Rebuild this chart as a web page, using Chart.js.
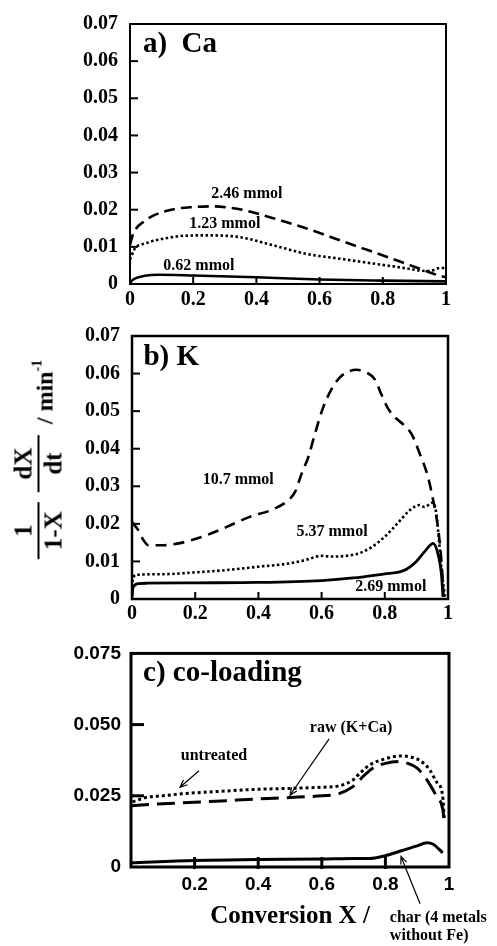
<!DOCTYPE html>
<html>
<head>
<meta charset="utf-8">
<script src="https://cdn.jsdelivr.net/npm/chart.js@4.4.1/dist/chart.umd.min.js"></script>
<style>
  body { margin:0; background:#fff; width:497px; height:946px; position:relative; overflow:hidden; }
  canvas { position:absolute; left:0; }
  #ylab { position:absolute; left:38px; top:462px; transform:translate(-50%,-50%) rotate(-90deg);
          display:flex; align-items:center; white-space:nowrap; color:#000;
          font:bold 25px "Liberation Serif", serif; }
  .frac { display:inline-flex; flex-direction:column; align-items:center; line-height:1; width:57px; margin:0 5px; }
  .frac .num { padding-bottom:2px; }
  .frac .den { border-top:2.5px solid #000; padding-top:1px; align-self:stretch; text-align:center; }
  .unit { margin-left:6px; position:relative; top:6px; font-size:24px; }
  .unit sup { font-size:14px; vertical-align:11px; }
</style>
</head>
<body>
<canvas id="chartA" width="497" height="312" style="top:0px"></canvas>
<canvas id="chartB" width="497" height="320" style="top:312px"></canvas>
<canvas id="chartC" width="497" height="314" style="top:632px"></canvas>
<div id="ylab">
  <span class="frac"><span class="num">1</span><span class="den">1-X</span></span>
  <span class="frac"><span class="num">dX</span><span class="den">dt</span></span>
  <span class="unit">/ min<sup>-1</sup></span>
</div>
<script>
// ticks
const xTicksAB = [0, 0.2, 0.4, 0.6, 0.8, 1];
const xLabelsAB = ['0', '0.2', '0.4', '0.6', '0.8', '1'];
const yTicksAB = [0, 0.01, 0.02, 0.03, 0.04, 0.05, 0.06, 0.07];
const yLabelsAB = ['0', '0.01', '0.02', '0.03', '0.04', '0.05', '0.06', '0.07'];
const xTicksC = [0, 0.2, 0.4, 0.6, 0.8, 1];
const xLabelsC = ['', '0.2', '0.4', '0.6', '0.8', '1'];
const yTicksC = [0, 0.025, 0.05, 0.075];
const yLabelsC = ['0', '0.025', '0.050', '0.075'];

// a) Ca
const caX246 = [0, 0.01, 0.047, 0.084, 0.142, 0.2, 0.26, 0.32, 0.37, 0.45, 0.55, 0.65, 0.75, 0.85, 0.93, 0.98, 1];
const caY246 = [0.0105, 0.0135, 0.017, 0.0188, 0.0202, 0.0207, 0.0209, 0.0205, 0.0197, 0.0178, 0.0152, 0.0122, 0.0092, 0.0062, 0.0037, 0.0022, 0.0018];
const caX123 = [0, 0.016, 0.047, 0.1, 0.174, 0.25, 0.348, 0.454, 0.559, 0.665, 0.77, 0.876, 0.918, 0.95, 0.98, 1];
const caY123 = [0.0066, 0.0096, 0.0109, 0.0121, 0.013, 0.0131, 0.0126, 0.0104, 0.0081, 0.0068, 0.0055, 0.0042, 0.0036, 0.0035, 0.0043, 0.0043];
const caX062 = [0, 0.01, 0.047, 0.09, 0.2, 0.4, 0.6, 0.8, 1];
const caY062 = [0.0003, 0.0012, 0.0022, 0.0025, 0.0023, 0.0018, 0.0012, 0.0009, 0.0007];

// b) K
const kX107 = [0, 0.02, 0.036, 0.052, 0.094, 0.147, 0.22, 0.3, 0.37, 0.45, 0.5, 0.516, 0.537, 0.558, 0.579, 0.605, 0.632, 0.658, 0.69, 0.711, 0.742, 0.768, 0.789, 0.811, 0.832, 0.863, 0.884, 0.911, 0.937, 0.953, 0.968, 0.979, 0.986];
const kY107 = [0.0205, 0.0183, 0.0157, 0.0143, 0.0143, 0.0148, 0.0165, 0.0192, 0.0218, 0.024, 0.0267, 0.0285, 0.0334, 0.0378, 0.044, 0.051, 0.0559, 0.059, 0.0607, 0.061, 0.0603, 0.0585, 0.0545, 0.0506, 0.0484, 0.0461, 0.044, 0.0386, 0.0324, 0.0263, 0.0192, 0.0103, 0.0006];
const kX537 = [0, 0.01, 0.1, 0.2, 0.3, 0.4, 0.5, 0.55, 0.6, 0.63, 0.68, 0.72, 0.76, 0.8, 0.84, 0.88, 0.91, 0.925, 0.953, 0.963, 0.979, 0.99];
const kY537 = [0.0045, 0.0064, 0.0066, 0.0071, 0.0077, 0.0086, 0.0095, 0.0104, 0.0115, 0.0113, 0.0115, 0.0122, 0.0139, 0.0166, 0.0201, 0.0237, 0.025, 0.0245, 0.0257, 0.0227, 0.0086, 0.0005];
const kX269 = [0, 0.003, 0.02, 0.05, 0.2, 0.4, 0.6, 0.7, 0.8, 0.85, 0.87, 0.9, 0.93, 0.953, 0.968, 0.979, 0.984];
const kY269 = [0.0005, 0.003, 0.0041, 0.0042, 0.0043, 0.0044, 0.0049, 0.0056, 0.0067, 0.0073, 0.008, 0.01, 0.013, 0.0148, 0.0121, 0.0068, 0.0006];

// c) co-loading
const cXuntreated = [0.005, 0.05, 0.1, 0.16, 0.3, 0.4, 0.5, 0.6, 0.65, 0.7, 0.72, 0.75, 0.8, 0.85, 0.88, 0.91, 0.94, 0.96, 0.98, 0.985];
const cYuntreated = [0.0229, 0.0245, 0.025, 0.0257, 0.0267, 0.0273, 0.0276, 0.028, 0.0284, 0.0307, 0.033, 0.0358, 0.038, 0.039, 0.0386, 0.0373, 0.034, 0.030, 0.025, 0.017];
const cXraw = [0, 0.1, 0.2, 0.3, 0.4, 0.5, 0.6, 0.65, 0.7, 0.73, 0.76, 0.8, 0.84, 0.87, 0.9, 0.93, 0.96, 0.98, 0.985];
const cYraw = [0.0215, 0.0222, 0.0227, 0.0233, 0.0239, 0.0244, 0.025, 0.0256, 0.0284, 0.0318, 0.0347, 0.0364, 0.037, 0.0364, 0.0347, 0.0307, 0.025, 0.0205, 0.016];
const cXchar = [0, 0.2, 0.4, 0.6, 0.7, 0.75, 0.8, 0.85, 0.9, 0.93, 0.95, 0.98];
const cYchar = [0.0015, 0.0023, 0.0026, 0.0028, 0.003, 0.003, 0.004, 0.0057, 0.0074, 0.0085, 0.008, 0.005];

const serif = '"Liberation Serif", "Times New Roman", serif';
const sans = '"Liberation Sans", Arial, sans-serif';

function series(xs, ys, dash, width) {
  return {
    data: xs.map((x, i) => ({ x: x, y: ys[i] })),
    borderColor: '#000', borderWidth: width, borderDash: dash,
    pointRadius: 0, fill: false, cubicInterpolationMode: 'monotone'
  };
}

// frame, inward ticks, text labels and arrows
function decor(o) {
  return {
    id: 'decor',
    afterDraw(chart) {
      const { ctx, chartArea: a, scales: { x, y } } = chart;
      ctx.save();
      ctx.strokeStyle = '#000';
      ctx.fillStyle = '#000';
      ctx.lineWidth = o.tickWidth;
      o.yIn.forEach(v => {
        const py = y.getPixelForValue(v);
        ctx.beginPath(); ctx.moveTo(a.left, py); ctx.lineTo(a.left + o.yLen, py); ctx.stroke();
      });
      o.xIn.forEach(v => {
        const px = x.getPixelForValue(v);
        ctx.beginPath(); ctx.moveTo(px, a.bottom + o.xOut); ctx.lineTo(px, a.bottom - o.xLen); ctx.stroke();
      });
      ctx.lineWidth = o.frame;
      ctx.strokeRect(a.left, a.top, a.right - a.left, a.bottom - a.top);
      ctx.textBaseline = 'middle';
      o.texts.forEach(t => {
        ctx.font = 'bold ' + t.size + 'px ' + serif;
        ctx.textAlign = t.align || 'center';
        ctx.fillText(t.text, x.getPixelForValue(t.x), y.getPixelForValue(t.y));
      });
      ctx.lineWidth = 1.2;
      (o.arrows || []).forEach(r => {
        const x1 = x.getPixelForValue(r.from[0]), y1 = y.getPixelForValue(r.from[1]);
        const x2 = x.getPixelForValue(r.to[0]), y2 = y.getPixelForValue(r.to[1]);
        const ang = Math.atan2(y2 - y1, x2 - x1), h = 8;
        ctx.beginPath(); ctx.moveTo(x1, y1); ctx.lineTo(x2, y2);
        ctx.moveTo(x2 - h * Math.cos(ang - 0.4), y2 - h * Math.sin(ang - 0.4));
        ctx.lineTo(x2, y2);
        ctx.lineTo(x2 - h * Math.cos(ang + 0.4), y2 - h * Math.sin(ang + 0.4));
        ctx.stroke();
      });
      ctx.restore();
    }
  };
}

function axis(ticks, labels, font, pad, fit, horiz, extra) {
  const ax = Object.assign({
    type: 'linear', min: ticks[0], max: ticks[ticks.length - 1],
    grid: { display: false, drawTicks: false }, border: { display: false },
    afterBuildTicks: s => { s.ticks = ticks.map(v => ({ value: v })); },
    afterFit: s => { if (horiz) s.height = fit; else s.width = fit; },
    ticks: { color: '#000', font: font, padding: pad, autoSkip: false, maxRotation: 0,
             callback: (v, i) => labels[i] }
  }, extra || {});
  return ax;
}

function panel(id, datasets, scales, padding, deco) {
  new Chart(document.getElementById(id), {
    type: 'line',
    data: { datasets: datasets },
    options: {
      responsive: false, animation: false, parsing: false,
      layout: { padding: padding },
      plugins: { legend: { display: false }, tooltip: { enabled: false } },
      scales: scales
    },
    plugins: [decor(deco)]
  });
}

const serifTick = { family: serif, size: 20, weight: 'bold' };
const sansTick = { family: sans, size: 19, weight: 'bold' };

panel('chartA',
  [series(caX246, caY246, [11, 6], 2.6), series(caX123, caY123, [2.5, 2.5], 2.6), series(caX062, caY062, [], 2.6)],
  { x: axis(xTicksAB, xLabelsAB, serifTick, 4, 28, true),
    y: axis(yTicksAB, yLabelsAB, serifTick, 12, 130, false) },
  { top: 21, right: 51, left: 0, bottom: 0 },
  { tickWidth: 2, yLen: 8, xLen: 7, xOut: 0, frame: 2, yIn: yTicksAB.slice(1, -1), xIn: xTicksAB.slice(1, -1),
    texts: [
      { text: 'a)  Ca', x: 0.041, y: 0.0644, size: 29, align: 'left' },
      { text: '2.46 mmol', x: 0.37, y: 0.0242, size: 16 },
      { text: '1.23 mmol', x: 0.30, y: 0.0162, size: 16 },
      { text: '0.62 mmol', x: 0.218, y: 0.0048, size: 16 }
    ] });

panel('chartB',
  [series(kX107, kY107, [11, 7], 2.6), series(kX537, kY537, [2.5, 2.5], 2.6), series(kX269, kY269, [], 2.8)],
  { x: axis(xTicksAB, xLabelsAB, serifTick, 3, 33, true),
    y: axis(yTicksAB, yLabelsAB, serifTick, 12, 132, false) },
  { top: 23, right: 49, left: 0, bottom: 0 },
  { tickWidth: 2, yLen: 8, xLen: 7, xOut: 0, frame: 2.5, yIn: yTicksAB.slice(1, -1), xIn: xTicksAB.slice(1, -1),
    texts: [
      { text: 'b) K', x: 0.036, y: 0.0642, size: 29, align: 'left' },
      { text: '10.7 mmol', x: 0.336, y: 0.0316, size: 16 },
      { text: '5.37 mmol', x: 0.633, y: 0.0178, size: 16 },
      { text: '2.69 mmol', x: 0.819, y: 0.0032, size: 16 }
    ] });

panel('chartC',
  [series(cXuntreated, cYuntreated, [3, 3], 3), series(cXraw, cYraw, [18, 8], 3), series(cXchar, cYchar, [], 3)],
  { x: axis(xTicksC, xLabelsC, sansTick, 6, 79, true,
            { title: { display: true, text: 'Conversion X /', color: '#000',
                       font: { family: serif, size: 25, weight: 'bold' }, padding: { top: 0, bottom: 14 } } }),
    y: axis(yTicksC, yLabelsC, sansTick, 10, 131, false) },
  { top: 15, right: 48, left: 0, bottom: 0 },
  { tickWidth: 3, yLen: 13, xLen: 10, xOut: 2, frame: 3, yIn: yTicksC.slice(1, -1), xIn: xTicksC.slice(1, -1),
    texts: [
      { text: 'c) co-loading', x: 0.038, y: 0.0678, size: 29, align: 'left' },
      { text: 'untreated', x: 0.261, y: 0.0389, size: 16 },
      { text: 'raw (K+Ca)', x: 0.692, y: 0.0488, size: 16 },
      { text: 'char (4 metals', x: 0.814, y: -0.0177, size: 16, align: 'left' },
      { text: 'without Fe)', x: 0.814, y: -0.0242, size: 16, align: 'left' }
    ],
    arrows: [
      { from: [0.214, 0.0338], to: [0.154, 0.028] },
      { from: [0.623, 0.045], to: [0.5, 0.0252] },
      { from: [0.909, -0.0129], to: [0.849, 0.0037] }
    ] });
</script>
</body>
</html>
